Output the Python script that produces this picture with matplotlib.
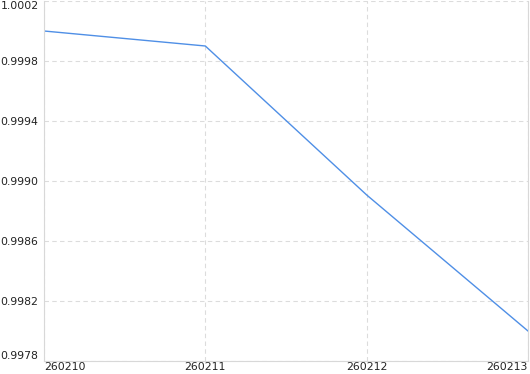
import matplotlib
matplotlib.use("Agg")
import matplotlib.pyplot as plt

# data
dates = ["260210", "260211", "260212", "260213"]
values = [1.0000, 0.99990, 0.998907, 0.99800]
yticks = [0.9978, 0.9982, 0.9986, 0.9990, 0.9994, 0.9998, 1.0002]

fig = plt.figure(figsize=(5.3, 3.74), dpi=100)
ax = fig.add_axes([44/530, 13/374, 484/530, 360/374])

x = list(range(len(dates)))
ax.plot(x, values, color="#4f8fe6", lw=1.0)

ax.set_xlim(0, len(dates) - 1)
ax.set_ylim(yticks[0], yticks[-1])
ax.set_yticks(yticks)
ax.set_yticklabels([f"{v:.4f}" for v in yticks])
ax.set_xticks(x)
ax.set_xticklabels(dates)
labs = ax.get_xticklabels()
labs[0].set_ha("left")
labs[-1].set_ha("right")
ylabs = ax.get_yticklabels()
ylabs[0].set_va("bottom")
ylabs[-1].set_va("top")

ax.grid(True, color="#dcdcdc", ls=(0, (4, 3)), lw=0.8)
ax.tick_params(length=0, labelsize=7.8, colors="#222222")
ax.tick_params(axis="x", pad=0.5)
ax.tick_params(axis="y", pad=4)
for s in ax.spines.values():
    s.set_color("#d8d8d8")
ax.spines["top"].set_visible(False)

fig.savefig("out.png", dpi=100)
